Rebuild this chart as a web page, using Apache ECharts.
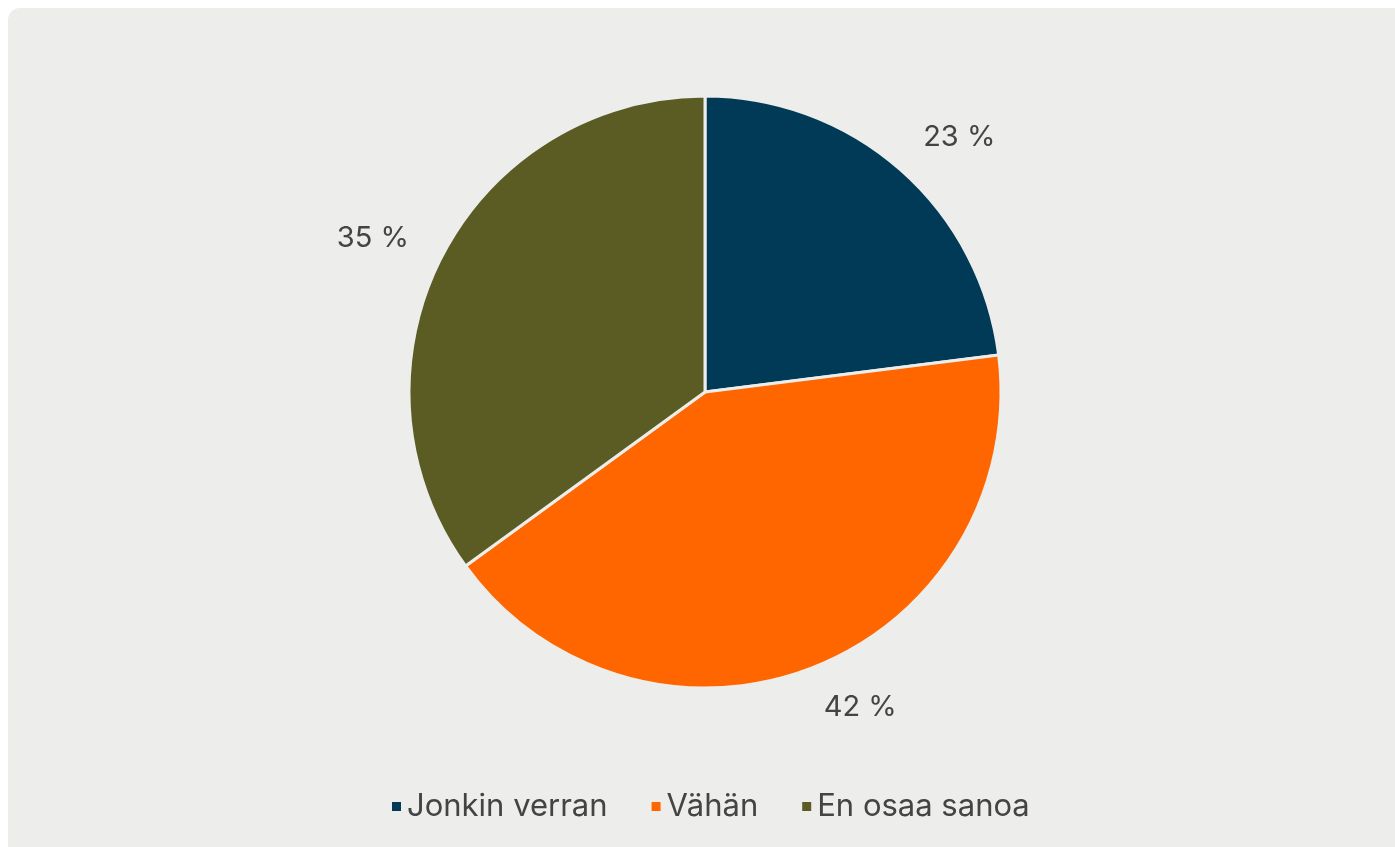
<!DOCTYPE html>
<html>
<head>
<meta charset="utf-8">
<script src="https://cdn.jsdelivr.net/npm/echarts@6/dist/echarts.min.js"></script>
<style>
    html, body {margin:0; padding:0; background:#fff; overflow:hidden;}
    #panel {position:absolute; left:8px; top:8px; width:1400px; height:860px; background:#EDEDEB; border-radius:12px;}
    #chart {position:absolute; left:0; top:0; width:1395px; height:847px;}
</style>
</head>
<body>
<div id="panel"></div>
<div id="chart"></div>
<script>
// luokat ja osuudet (%)
var categories = ['Jonkin verran', 'Vähän', 'En osaa sanoa'];
var shares = [23, 42, 35];
var colors = ['#003A57', '#FF6600', '#5A5C23'];

var pieData = [];
for (var i = 0; i < categories.length; i++) {
    pieData.push({name: categories[i], value: shares[i], itemStyle: {color: colors[i]}});
}

var option = {
    backgroundColor: 'transparent',
    textStyle: {fontFamily: 'Inter, "Liberation Sans", sans-serif'},
    legend: {
        bottom: 20,
        left: 385,
        icon: 'rect',
        itemWidth: 11,
        itemHeight: 11,
        itemGap: 42,
        textStyle: {fontSize: 31, color: '#444'},
        data: categories
    },
    series: [
        {
            type: 'pie',
            center: [705, 392],
            radius: 296,
            startAngle: 90,
            clockwise: true,
            silent: true,
            itemStyle: {borderColor: '#EDEDEB', borderWidth: 3},
            label: {
                show: true,
                position: 'outside',
                formatter: '{c} %',
                fontSize: 29,
                color: '#444',
                distanceToLabelLine: -6
            },
            labelLine: {show: false, length: 43, length2: 0},
            data: pieData
        }
    ]
};
echarts.init(document.getElementById('chart')).setOption(option);
</script>
</body>
</html>
